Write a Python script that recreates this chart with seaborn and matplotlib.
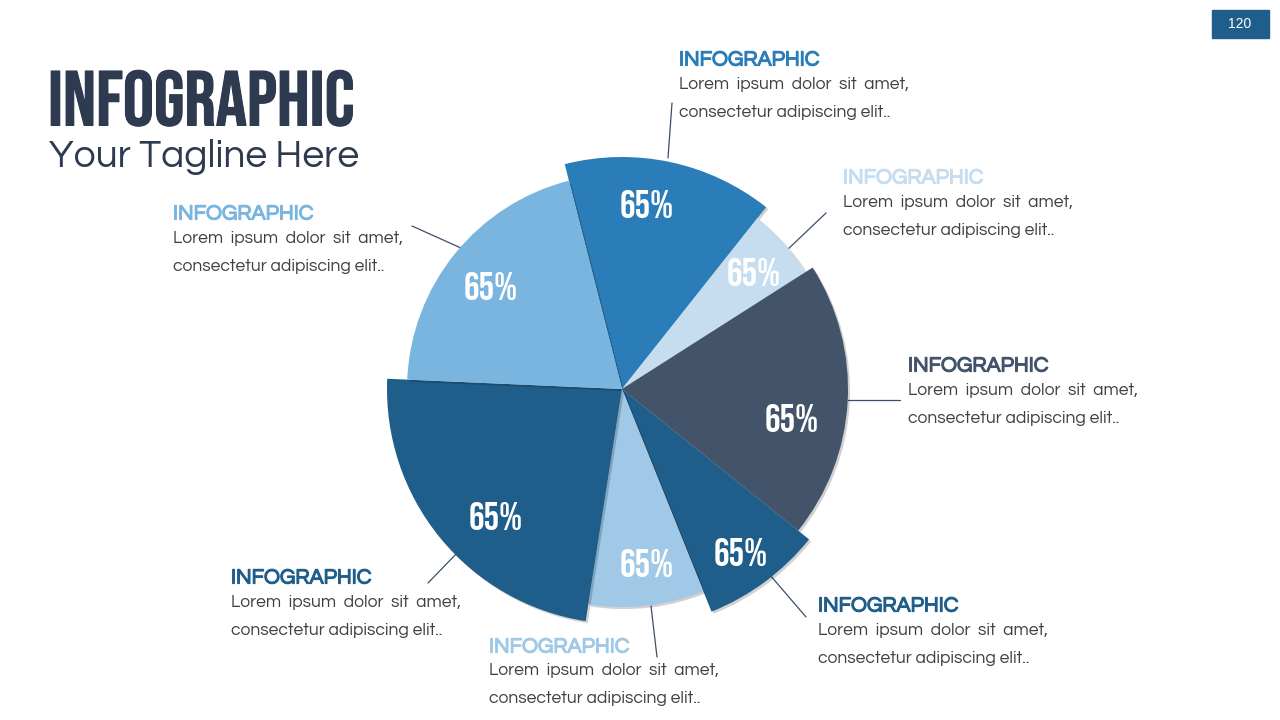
import numpy as np
import matplotlib
matplotlib.use("Agg")
import matplotlib.pyplot as plt
import matplotlib.patheffects as pe
import seaborn as sns

# ---------------- data ----------------
slice_sizes_deg = [52.7, 19.1, 71.3, 29.3, 30.8, 83.6, 73.2]   # clockwise from top slice
slice_radius = [232, 218, 226, 240, 218, 235, 215]
slice_labels = ["65%", "65%", "65%", "65%", "65%", "65%", "65%"]
slice_colors = ["#2a7db8", "#c6ddf0", "#435369", "#1f5e8a", "#9fc9e7", "#1f5e8a", "#7ab5df"]
start_angle_deg = 104.3

headers = ["INFOGRAPHIC"] * 7
body_line1 = "Lorem  ipsum  dolor  sit  amet,"
body_line2 = "consectetur adipiscing elit.."

title = "INFOGRAPHIC"
tagline = "Your Tagline Here"
page_no = "120"

# ---------------- style ----------------
sns.set_theme(style="white")
GOTHIC = ["URW Gothic", "Questrial", "Didact Gothic", "Poppins", "Lato", "DejaVu Sans"]
CONDENSED = ["Bebas Neue", "Oswald", "Barlow Condensed", "Roboto Condensed", "DejaVu Sans"]
plt.rcParams["font.family"] = GOTHIC

fig = plt.figure(figsize=(12.8, 7.2), dpi=100)
fig.patch.set_facecolor("white")

bg = fig.add_axes([0, 0, 1, 1], zorder=0)
bg.set_xlim(0, 1280)
bg.set_ylim(720, 0)
bg.axis("off")

cx, cy, R = 622, 389, 250
pax = fig.add_axes([(cx - R) / 1280, (720 - cy - R) / 720, 2 * R / 1280, 2 * R / 720],
                   projection="polar", zorder=2)
pax.set_facecolor("none")
pax.set_ylim(0, R)
pax.axis("off")

sizes = np.radians(slice_sizes_deg)
edges = np.radians(start_angle_deg) - np.concatenate([[0], np.cumsum(sizes)])
centers = edges[:-1] - sizes / 2

bars = pax.bar(centers, slice_radius, width=sizes, bottom=0, color=slice_colors,
               edgecolor="none", align="center")
for b in bars:
    b.set_path_effects([pe.SimplePatchShadow(offset=(1.5, -1.5), shadow_rgbFace="black", alpha=0.18),
                        pe.Normal()])

# label placement (angle offset from slice centre in degrees, radius in px)
label_dtheta = [4.6, -0.5, -6.5, -0.4, 1.5, 5.9, 1.1]
label_r = [187, 176, 172, 202, 176, 179, 167]
for th, dth, lr, lab in zip(centers, label_dtheta, label_r, slice_labels):
    pax.text(th + np.radians(dth), lr, lab, ha="center", va="center", color="white",
             fontsize=28, family=CONDENSED)

# ---------------- titles ----------------
bg.text(48, 98, title, fontsize=56, color="#2e3a50", family=CONDENSED,
        ha="left", va="center",
        path_effects=[pe.withStroke(linewidth=0.8, foreground="#2e3a50")])
bg.text(49, 157, tagline, fontsize=28, color="#2e3a50", ha="left", va="center")

bg.add_patch(plt.Rectangle((1212, 10), 57, 28, color="#1f5e8a"))
bg.text(1240, 24, page_no, color="white", fontsize=10, ha="center", va="center",
        family=["Liberation Sans", "DejaVu Sans"])

# ---------------- callouts ----------------
callout_xy = [(679, 59), (843, 177), (908, 365), (818, 605), (489, 646), (231, 577), (173, 213)]
leaders = [((668, 158), (672, 103)), ((785, 252), (826, 213)), ((848, 400), (900, 400)),
           ((770, 575), (806, 617)), ((651, 606), (657, 657)), ((460, 550), (428, 583)),
           ((461, 248), (412, 226))]

for (x, y), col, hd, ((x1, y1), (x2, y2)) in zip(callout_xy, slice_colors, headers, leaders):
    bg.text(x, y + 1, hd, color=col, fontsize=15.3, ha="left", va="center",
            path_effects=[pe.withStroke(linewidth=0.9, foreground=col)])
    bg.text(x, y + 25, body_line1, color="#404040", fontsize=12.6, ha="left", va="center")
    bg.text(x, y + 53, body_line2, color="#404040", fontsize=12.6, ha="left", va="center")
    bg.plot([x1, x2], [y1, y2], color="#3d4f66", lw=0.9)

fig.savefig("out.png", dpi=100, facecolor="white")
